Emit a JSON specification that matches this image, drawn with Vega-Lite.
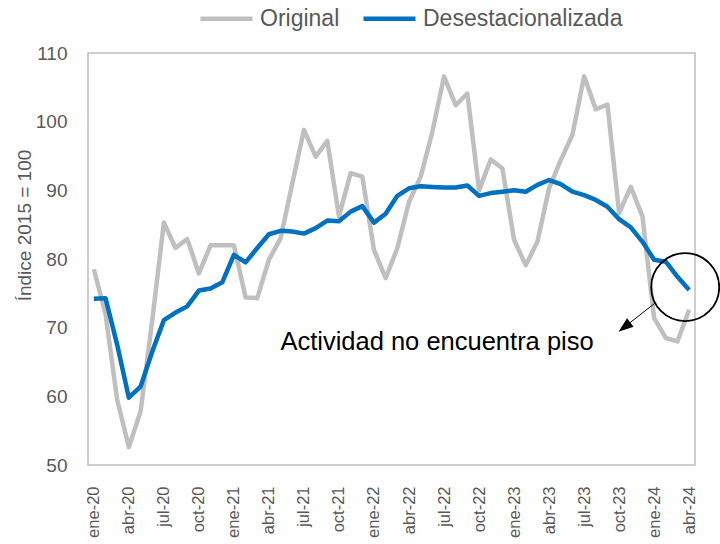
{
  "$schema": "https://vega.github.io/schema/vega-lite/v6.json",
  "width": 607,
  "height": 412,
  "autosize": {"type": "none"},
  "padding": {"left": 88, "top": 53, "right": 25, "bottom": 79},
  "background": "white",
  "config": {
    "view": {"stroke": "#BFBFBF", "strokeWidth": 1.5},
    "font": "Liberation Sans"
  },
  "datasets": {
    "serie": [
      {"t": 0, "mes": "ene-20", "Original": 78.5, "Desestacionalizada": 74.2},
      {"t": 1, "mes": "feb-20", "Original": 72.0, "Desestacionalizada": 74.3},
      {"t": 2, "mes": "mar-20", "Original": 59.5, "Desestacionalizada": 67.5},
      {"t": 3, "mes": "abr-20", "Original": 52.6, "Desestacionalizada": 59.8},
      {"t": 4, "mes": "may-20", "Original": 57.8, "Desestacionalizada": 61.4},
      {"t": 5, "mes": "jun-20", "Original": 71.0, "Desestacionalizada": 66.5},
      {"t": 6, "mes": "jul-20", "Original": 85.3, "Desestacionalizada": 71.1},
      {"t": 7, "mes": "ago-20", "Original": 81.6, "Desestacionalizada": 72.2},
      {"t": 8, "mes": "sep-20", "Original": 82.9, "Desestacionalizada": 73.1},
      {"t": 9, "mes": "oct-20", "Original": 77.9, "Desestacionalizada": 75.4},
      {"t": 10, "mes": "nov-20", "Original": 82.0, "Desestacionalizada": 75.7},
      {"t": 11, "mes": "dic-20", "Original": 82.0, "Desestacionalizada": 76.6},
      {"t": 12, "mes": "ene-21", "Original": 82.0, "Desestacionalizada": 80.6},
      {"t": 13, "mes": "feb-21", "Original": 74.4, "Desestacionalizada": 79.5},
      {"t": 14, "mes": "mar-21", "Original": 74.3, "Desestacionalizada": 81.6},
      {"t": 15, "mes": "abr-21", "Original": 79.9, "Desestacionalizada": 83.6},
      {"t": 16, "mes": "may-21", "Original": 83.0, "Desestacionalizada": 84.1},
      {"t": 17, "mes": "jun-21", "Original": 91.0, "Desestacionalizada": 84.0},
      {"t": 18, "mes": "jul-21", "Original": 98.8, "Desestacionalizada": 83.7},
      {"t": 19, "mes": "ago-21", "Original": 94.9, "Desestacionalizada": 84.5},
      {"t": 20, "mes": "sep-21", "Original": 97.2, "Desestacionalizada": 85.6},
      {"t": 21, "mes": "oct-21", "Original": 86.2, "Desestacionalizada": 85.5},
      {"t": 22, "mes": "nov-21", "Original": 92.5, "Desestacionalizada": 86.9},
      {"t": 23, "mes": "dic-21", "Original": 92.0, "Desestacionalizada": 87.7},
      {"t": 24, "mes": "ene-22", "Original": 81.3, "Desestacionalizada": 85.3},
      {"t": 25, "mes": "feb-22", "Original": 77.2, "Desestacionalizada": 86.6},
      {"t": 26, "mes": "mar-22", "Original": 81.6, "Desestacionalizada": 89.2},
      {"t": 27, "mes": "abr-22", "Original": 88.3, "Desestacionalizada": 90.3},
      {"t": 28, "mes": "may-22", "Original": 92.0, "Desestacionalizada": 90.6},
      {"t": 29, "mes": "jun-22", "Original": 98.5, "Desestacionalizada": 90.5},
      {"t": 30, "mes": "jul-22", "Original": 106.6, "Desestacionalizada": 90.4},
      {"t": 31, "mes": "ago-22", "Original": 102.4, "Desestacionalizada": 90.4},
      {"t": 32, "mes": "sep-22", "Original": 104.1, "Desestacionalizada": 90.7},
      {"t": 33, "mes": "oct-22", "Original": 90.0, "Desestacionalizada": 89.2},
      {"t": 34, "mes": "nov-22", "Original": 94.5, "Desestacionalizada": 89.6},
      {"t": 35, "mes": "dic-22", "Original": 93.2, "Desestacionalizada": 89.8},
      {"t": 36, "mes": "ene-23", "Original": 82.8, "Desestacionalizada": 90.0},
      {"t": 37, "mes": "feb-23", "Original": 79.1, "Desestacionalizada": 89.8},
      {"t": 38, "mes": "mar-23", "Original": 82.5, "Desestacionalizada": 90.8},
      {"t": 39, "mes": "abr-23", "Original": 90.3, "Desestacionalizada": 91.5},
      {"t": 40, "mes": "may-23", "Original": 94.4, "Desestacionalizada": 90.9},
      {"t": 41, "mes": "jun-23", "Original": 98.1, "Desestacionalizada": 89.8},
      {"t": 42, "mes": "jul-23", "Original": 106.6, "Desestacionalizada": 89.3},
      {"t": 43, "mes": "ago-23", "Original": 101.8, "Desestacionalizada": 88.6},
      {"t": 44, "mes": "sep-23", "Original": 102.5, "Desestacionalizada": 87.6},
      {"t": 45, "mes": "oct-23", "Original": 86.7, "Desestacionalizada": 85.8},
      {"t": 46, "mes": "nov-23", "Original": 90.5, "Desestacionalizada": 84.6},
      {"t": 47, "mes": "dic-23", "Original": 86.2, "Desestacionalizada": 82.5},
      {"t": 48, "mes": "ene-24", "Original": 71.4, "Desestacionalizada": 79.9},
      {"t": 49, "mes": "feb-24", "Original": 68.5, "Desestacionalizada": 79.6},
      {"t": 50, "mes": "mar-24", "Original": 68.0, "Desestacionalizada": 77.4},
      {"t": 51, "mes": "abr-24", "Original": 72.6, "Desestacionalizada": 75.5}
    ],
    "texto": [{"t": 29.4, "valor": 66.75, "nota": "Actividad no encuentra piso"}],
    "circulo": [{"t": 50.66, "valor": 75.9}],
    "flecha": [{"t": 48.09, "valor": 73.6, "t2": 45.45, "valor2": 70.08}],
    "punta": [{"t": 45.45, "valor": 70.08}]
  },
  "layer": [
    {
      "data": {"name": "serie"},
      "transform": [{"fold": ["Original", "Desestacionalizada"], "as": ["serie", "valor"]}],
      "mark": {"type": "line", "strokeWidth": 4.5, "strokeJoin": "round"},
      "encoding": {
        "x": {
          "field": "t", "type": "quantitative",
          "scale": {"domain": [-0.5, 51.5], "nice": false, "zero": false},
          "axis": {
            "values": [0, 3, 6, 9, 12, 15, 18, 21, 24, 27, 30, 33, 36, 39, 42, 45, 48, 51],
            "tickCount": 60,
            "labelExpr": "(datum.value % 12 == 0 ? 'ene' : datum.value % 12 == 3 ? 'abr' : datum.value % 12 == 6 ? 'jul' : 'oct') + '-' + (20 + floor(datum.value / 12))",
            "labelAngle": -90, "labelFontSize": 16.5, "labelColor": "#595959", "labelFont": "Liberation Sans",
            "labelPadding": 21, "ticks": false, "tickSize": 0, "domain": false, "grid": false, "title": null,
            "labelOverlap": false, "labelBound": false, "labelFlush": false
          }
        },
        "y": {
          "field": "valor", "type": "quantitative",
          "scale": {"domain": [50, 110], "nice": false, "zero": false},
          "axis": {
            "values": [50, 60, 70, 80, 90, 100, 110],
            "tickCount": 20,
            "labelFontSize": 19, "labelColor": "#595959", "labelFont": "Liberation Sans",
            "labelPadding": 21, "ticks": false, "tickSize": 0, "domain": false, "grid": false,
            "title": "Índice 2015 = 100", "titleFontSize": 19, "titleFontWeight": "normal", "titleColor": "#595959",
            "titleFont": "Liberation Sans", "titleX": -64, "titleY": 172, "titleAngle": -90,
            "titleAlign": "center", "titleBaseline": "middle"
          }
        },
        "color": {
          "field": "serie", "type": "nominal",
          "scale": {"domain": ["Original", "Desestacionalizada"], "range": ["#BFBFBF", "#0070C0"]},
          "legend": {
            "orient": "none", "legendX": 110, "legendY": -63, "direction": "horizontal", "title": null,
            "symbolType": "stroke", "symbolSize": 2704, "symbolStrokeWidth": 4.5,
            "labelFontSize": 23, "labelFont": "Liberation Sans", "labelColor": "#595959",
            "labelOffset": 5, "columnPadding": 14, "labelLimit": 0
          }
        }
      }
    },
    {
      "data": {"name": "texto"},
      "mark": {"type": "text", "fontSize": 25.5, "font": "Liberation Sans", "color": "black", "align": "center", "baseline": "alphabetic"},
      "encoding": {
        "x": {"field": "t", "type": "quantitative"},
        "y": {"field": "valor", "type": "quantitative"},
        "text": {"field": "nota"}
      }
    },
    {
      "data": {"name": "circulo"},
      "mark": {"type": "point", "shape": "circle", "filled": false, "stroke": "black", "strokeWidth": 1.8, "opacity": 1, "size": 4624},
      "encoding": {
        "x": {"field": "t", "type": "quantitative"},
        "y": {"field": "valor", "type": "quantitative"}
      }
    },
    {
      "data": {"name": "flecha"},
      "mark": {"type": "rule", "color": "black", "strokeWidth": 1},
      "encoding": {
        "x": {"field": "t", "type": "quantitative"},
        "y": {"field": "valor", "type": "quantitative"},
        "x2": {"field": "t2"},
        "y2": {"field": "valor2"}
      }
    },
    {
      "data": {"name": "punta"},
      "mark": {"type": "point", "shape": "M0,-1L0.7,1L-0.7,1Z", "filled": true, "color": "black", "opacity": 1, "size": 225, "angle": 232},
      "encoding": {
        "x": {"field": "t", "type": "quantitative"},
        "y": {"field": "valor", "type": "quantitative"}
      }
    }
  ]
}
